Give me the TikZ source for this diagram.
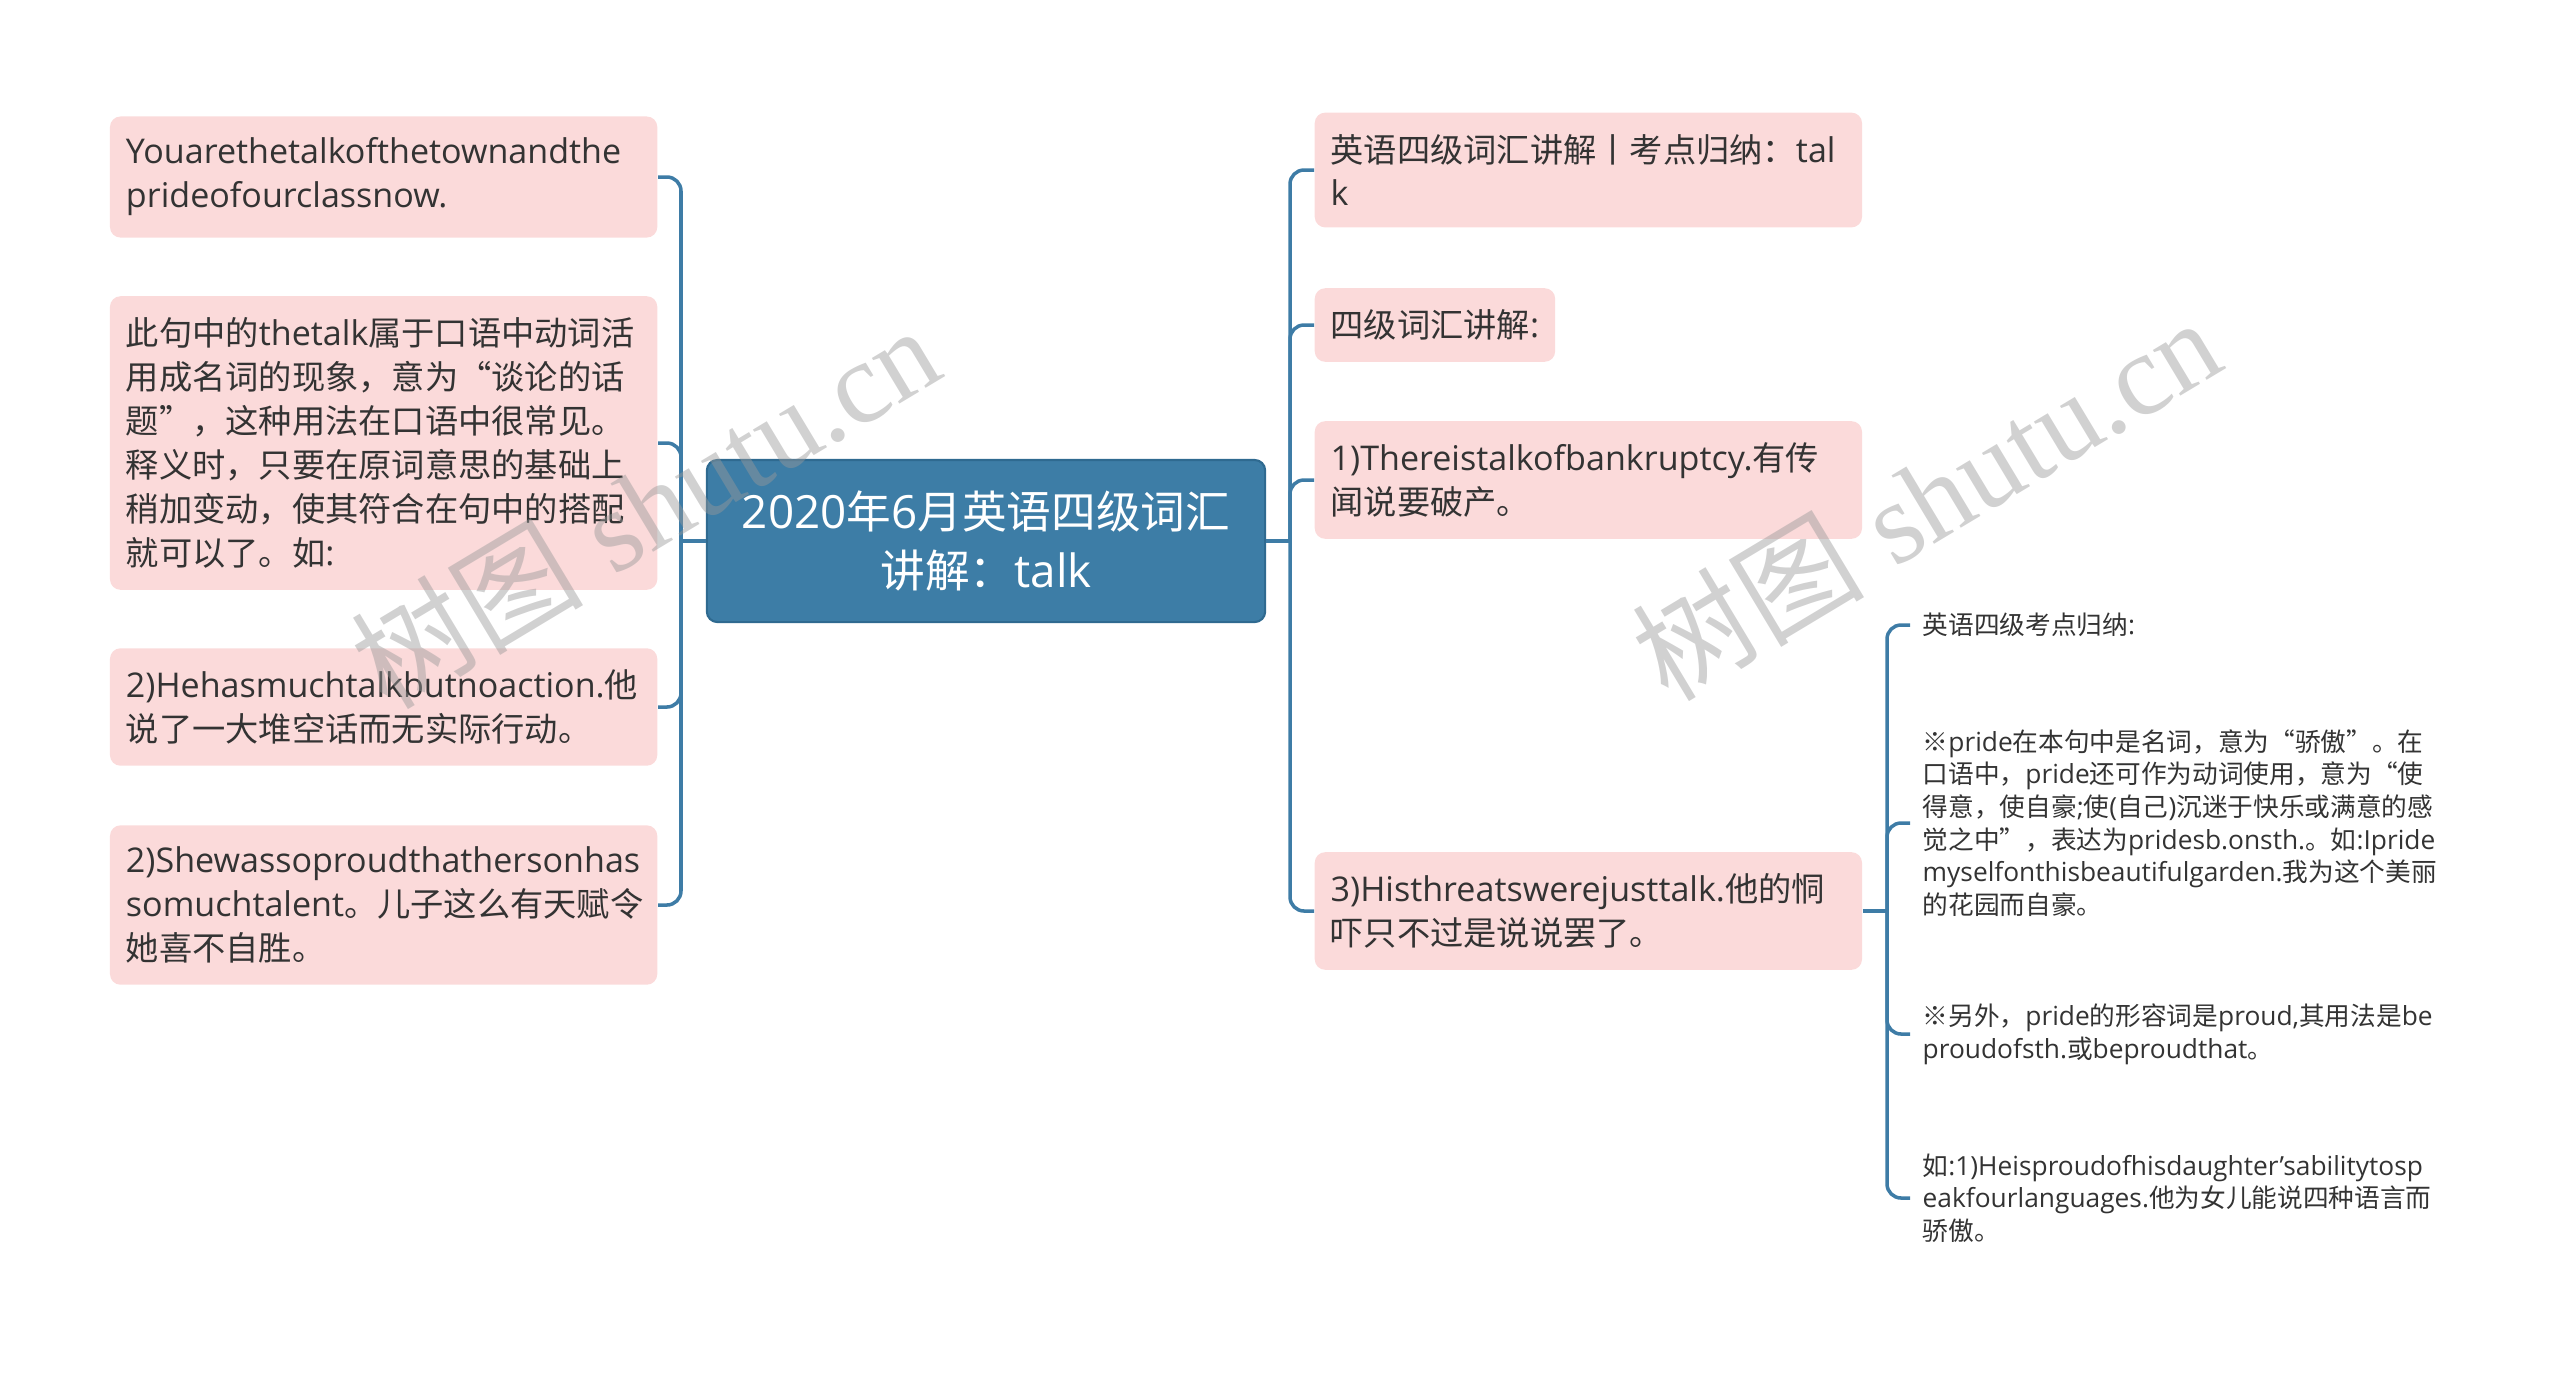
\documentclass[tikz,border=0pt]{standalone}
\usepackage{fontspec}
\setmainfont{Open Sans}[Scale=1.025]
\newfontfamily\cjk{Noto Sans CJK SC}
\newfontfamily\wmserif{Liberation Serif}
% Chinese characters get the CJK font on their own
\XeTeXinterchartokenstate=1
\newXeTeXintercharclass\cjkclass
\newcount\cjkc
\newcommand\cjkrange[2]{\cjkc=#1\relax
  \loop\XeTeXcharclass\cjkc=\cjkclass\relax
  \ifnum\cjkc<#2\advance\cjkc by 1\relax\repeat}
\cjkrange{"3000}{"303F}
\cjkrange{"4E00}{"9FFF}
\cjkrange{"FF00}{"FFEF}
\XeTeXcharclass"201C=\cjkclass
\XeTeXcharclass"201D=\cjkclass
\XeTeXcharclass"203B=\cjkclass
\XeTeXinterchartoks 0 \cjkclass={\cjk}
\XeTeXinterchartoks 4095 \cjkclass={\cjk}
\XeTeXinterchartoks \cjkclass 0={\rmfamily}
\XeTeXinterchartoks \cjkclass 4095={\rmfamily}

\definecolor{topicblue}{HTML}{3D7DA6}
\definecolor{topicedge}{HTML}{2F6A90}
\definecolor{leafpink}{HTML}{FBDADA}
\definecolor{linkblue}{HTML}{3E7CA6}
\definecolor{txt}{HTML}{333333}

\begin{document}
\begin{tikzpicture}[x=0.01cm,y=-0.01cm,
	topic/.style={rounded corners=3pt,fill=topicblue,draw=topicedge,line width=0.6pt,text=white,
		font=\fontsize{12.7pt}{16.7pt}\selectfont,align=center,minimum width=5.58cm,minimum height=1.62cm,inner sep=0pt},
	leafbase/.style={rounded corners=3pt,fill=leafpink,text=txt,font=\fontsize{9.45pt}{12.5pt}\selectfont,
		align=left,inner xsep=0.16cm,inner ysep=6.1pt},
	leaf/.style={leafbase,text width=5.15cm},
	note/.style={text=txt,font=\fontsize{7.3pt}{9.3pt}\selectfont,align=left,inner xsep=0.12cm,inner ysep=0pt,anchor=west},
	link/.style={draw=linkblue,line width=1pt,rounded corners=4pt},
	wmark/.style={text=black!40,text opacity=0.45,font=\fontsize{33pt}{33pt}\selectfont,rotate=31}]
	\useasboundingbox (0,0) rectangle (2560,1372);
	% centre
	\node[topic] (root) at (986,541) {2020年6月英语四级词汇\\讲解：talk};
	% left side
	\node[leaf,anchor=east] (l1) at (658,177) {Youarethetalkofthetownandthe\\prideofourclassnow.};
	\node[leaf,anchor=east] (l2) at (658,443) {此句中的thetalk属于口语中动词活\\用成名词的现象，意为“谈论的话\\题”，这种用法在口语中很常见。\\释义时，只要在原词意思的基础上\\稍加变动，使其符合在句中的搭配\\就可以了。如:};
	\node[leaf,anchor=east] (l3) at (658,707) {2)Hehasmuchtalkbutnoaction.他\\说了一大堆空话而无实际行动。};
	\node[leaf,anchor=east] (l4) at (658,905) {2)Shewassoproudthathersonhas\\somuchtalent。儿子这么有天赋令\\她喜不自胜。};
	% right side
	\node[leaf,anchor=west] (r1) at (1314,170) {英语四级词汇讲解丨考点归纳：tal\\k};
	\node[leafbase,anchor=west] (r2) at (1314,325) {四级词汇讲解:};
	\node[leaf,anchor=west] (r3) at (1314,480) {1)Thereistalkofbankruptcy.有传\\闻说要破产。};
	\node[leaf,anchor=west] (r4) at (1314,911) {3)Histhreatswerejusttalk.他的恫\\吓只不过是说说罢了。};
	% notes under r4
	\node[note] (n1) at (1910,625) {英语四级考点归纳:};
	\node[note] (n2) at (1910,823) {※pride在本句中是名词，意为“骄傲”。在\\口语中，pride还可作为动词使用，意为“使\\得意，使自豪;使(自己)沉迷于快乐或满意的感\\觉之中”，表达为pridesb.onsth.。如:Ipride\\myselfonthisbeautifulgarden.我为这个美丽\\的花园而自豪。};
	\node[note] (n3) at (1910,1034) {※另外，pride的形容词是proud,其用法是be\\proudofsth.或beproudthat。};
	\node[note] (n4) at (1910,1198) {如:1)Heisproudofhisdaughter'sabilitytosp\\eakfourlanguages.他为女儿能说四种语言而\\骄傲。};
	% connectors
	\coordinate (lj) at (681,541);
	\coordinate (rj) at (1290,541);
	\coordinate (nj) at (1887,911);
	\draw[link] (root.west) -- (lj);
	\draw[link] (root.east) -- (rj);
	\draw[link] (r4.east) -- (nj);
	\foreach \n in {l1,l2,l3,l4} \draw[link] (lj) |- (\n.east);
	\foreach \n in {r1,r2,r3,r4} \draw[link] (rj) |- (\n.west);
	\foreach \n in {n1,n2,n3,n4} \draw[link] (nj) |- (\n.west);
	% watermark
	\node[wmark] (wm1) at (645,506) {树图 {\wmserif shutu.cn}};
	\node[wmark] (wm2) at (1926,498) {树图 {\wmserif shutu.cn}};
\end{tikzpicture}
\end{document}
